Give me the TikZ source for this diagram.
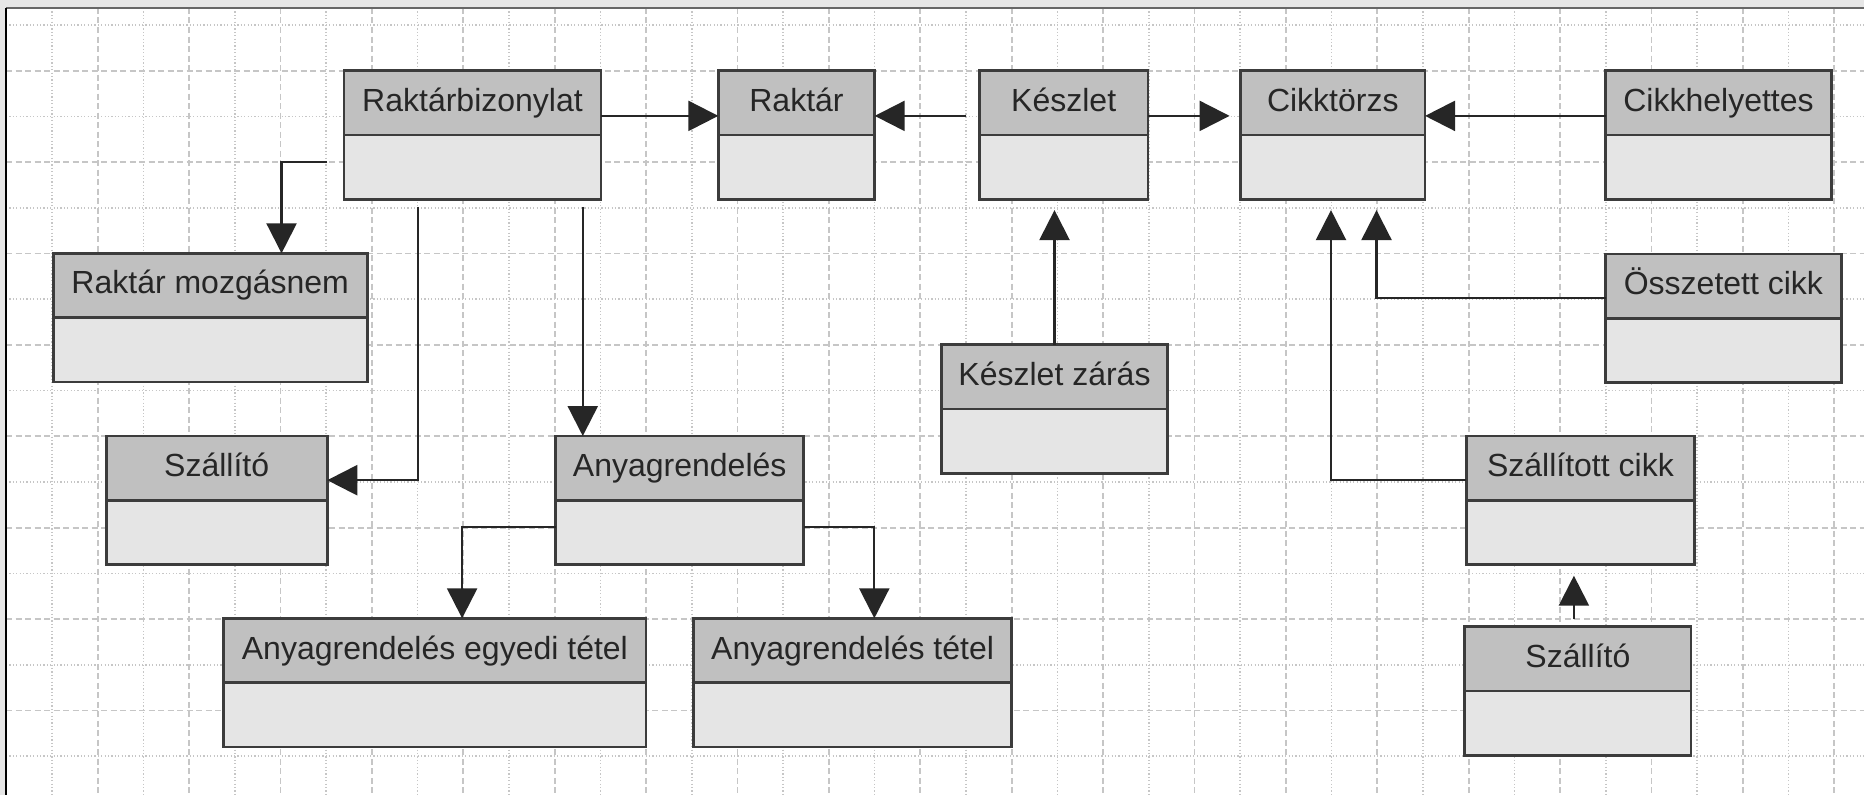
\documentclass[tikz,border=0pt]{standalone}
\usepackage{fontspec}
\setmainfont{Liberation Sans}
\usetikzlibrary{positioning}
\usetikzlibrary{arrows.meta}
\definecolor{headfill}{HTML}{C0C0C0}
\definecolor{bodyfill}{HTML}{E5E5E5}
\definecolor{boxline}{HTML}{3C3C3C}
\definecolor{gridline}{HTML}{C6C6C6}
\definecolor{framegray}{HTML}{E6E6E6}
\tikzstyle{clhead} = [draw=boxline, fill=headfill, line width=0.8pt, inner sep=0pt, outer sep=0pt, minimum height=6.43mm, text height=2.3mm, text depth=0.6mm, text=black!85, font=\fontsize{9.1}{11}\selectfont]
\tikzstyle{clbody} = [draw=boxline, fill=bodyfill, line width=0.8pt, inner sep=0pt, outer sep=0pt, minimum height=6.43mm]
\tikzstyle{conn} = [draw=black!85, line width=0.65pt, -{Triangle[length=3mm, width=3mm]}]
\tikzstyle{majorgrid} = [draw=gridline, line width=0.5pt, dash pattern=on 0.6mm off 0.35mm]
\tikzstyle{minorgrid} = [draw=gridline, line width=0.45pt, dash pattern=on 0.12mm off 0.22mm]

\begin{document}
\begin{tikzpicture}[x=0.01cm, y=-0.01cm]
    \useasboundingbox (0,0) rectangle (1864,795);
    % frame and grid
    \fill[framegray] (0,0) rectangle (1864,795);
    \fill[white] (6,8) rectangle (1864,795);
    \foreach \k in {0,...,19} {
        \draw[minorgrid] ({52+91.4*\k},8) -- ({52+91.4*\k},795);
        \draw[majorgrid] ({97.7+91.4*\k},8) -- ({97.7+91.4*\k},795);
    }
    \foreach \k in {0,...,8} {
        \draw[minorgrid] (6,{25+91.4*\k}) -- (1864,{25+91.4*\k});
    }
    \foreach \k in {0,...,7} {
        \draw[majorgrid] (6,{70.7+91.4*\k}) -- (1864,{70.7+91.4*\k});
    }
    \draw[black!60, line width=0.7pt] (6,8) -- (1864,8);
    \draw[black, line width=0.8pt] (6,795) -- (6,8);

    % classes
    \node[clhead, minimum width=2.57cm] (rbiz) at (472.5,102.9) {Raktárbizonylat};
    \node[clbody, minimum width=2.57cm, below=0pt of rbiz] (rbiz_b) {};
    \node[clhead, minimum width=1.563cm] (raktar) at (796.5,102.9) {Raktár};
    \node[clbody, minimum width=1.563cm, below=0pt of raktar] (raktar_b) {};
    \node[clhead, minimum width=1.683cm] (keszlet) at (1063.7,102.9) {Készlet};
    \node[clbody, minimum width=1.683cm, below=0pt of keszlet] (keszlet_b) {};
    \node[clhead, minimum width=1.844cm] (cikk) at (1332.8,102.9) {Cikktörzs};
    \node[clbody, minimum width=1.844cm, below=0pt of cikk] (cikk_b) {};
    \node[clhead, minimum width=2.259cm] (helyettes) at (1718.5,102.9) {Cikkhelyettes};
    \node[clbody, minimum width=2.259cm, below=0pt of helyettes] (helyettes_b) {};

    \node[clhead, minimum width=3.136cm] (mozgas) at (210.2,285.5) {Raktár mozgásnem};
    \node[clbody, minimum width=3.136cm, below=0pt of mozgas] (mozgas_b) {};
    \node[clhead, minimum width=2.357cm] (osszetett) at (1723.4,286.2) {Összetett cikk};
    \node[clbody, minimum width=2.357cm, below=0pt of osszetett] (osszetett_b) {};
    \node[clhead, minimum width=2.259cm] (zaras) at (1054.5,376.9) {Készlet zárás};
    \node[clbody, minimum width=2.259cm, below=0pt of zaras] (zaras_b) {};

    \node[clhead, minimum width=2.21cm] (szall1) at (216.7,468.2) {Szállító};
    \node[clbody, minimum width=2.21cm, below=0pt of szall1] (szall1_b) {};
    \node[clhead, minimum width=2.48cm] (anyag) at (679.7,468.2) {Anyagrendelés};
    \node[clbody, minimum width=2.48cm, below=0pt of anyag] (anyag_b) {};
    \node[clhead, minimum width=2.279cm] (szcikk) at (1580.4,468.2) {Szállított cikk};
    \node[clbody, minimum width=2.279cm, below=0pt of szcikk] (szcikk_b) {};

    \node[clhead, minimum width=4.219cm] (egyedi) at (434.9,650.5) {Anyagrendelés egyedi tétel};
    \node[clbody, minimum width=4.219cm, below=0pt of egyedi] (egyedi_b) {};
    \node[clhead, minimum width=3.182cm] (tetel) at (852.6,650.5) {Anyagrendelés tétel};
    \node[clbody, minimum width=3.182cm, below=0pt of tetel] (tetel_b) {};
    \node[clhead, minimum width=2.262cm] (szall2) at (1577.9,658.9) {Szállító};
    \node[clbody, minimum width=2.262cm, below=0pt of szall2] (szall2_b) {};

    % associations
    \draw[conn] ([yshift=-1.3mm]rbiz.east) -- ([yshift=-1.3mm]raktar.west);
    \draw[conn, shorten <=1.4mm] ([yshift=-1.3mm]keszlet.west) -- ([yshift=-1.3mm]raktar.east);
    \draw[conn, shorten >=1.1mm] ([yshift=-1.3mm]keszlet.east) -- ([yshift=-1.3mm]cikk.west);
    \draw[conn] ([yshift=-1.3mm]helyettes.west) -- ([yshift=-1.3mm]cikk.east);
    \draw[conn, shorten <=1.66mm] ([yshift=0.5mm]rbiz_b.west) -| ([xshift=7.13mm]mozgas.north);
    \draw[conn, shorten <=0.74mm] ([xshift=-5.45mm]rbiz_b.south) |- ([yshift=-1.2mm]szall1.east);
    \draw[conn, shorten <=0.74mm] ([xshift=11.02mm]rbiz_b.south) -- ([xshift=11.02mm]rbiz_b.south |- anyag.north);
    \draw[conn, shorten >=1.07mm] (zaras.north) -- (zaras.north |- keszlet_b.south);
    \draw[conn, shorten >=1.07mm] ([yshift=-1.2mm]osszetett.west) -| ([xshift=4.37mm]cikk_b.south);
    \draw[conn, shorten >=1.07mm] ([yshift=-1.2mm]szcikk.west) -| ([xshift=-0.18mm]cikk_b.south);
    \draw[conn, shorten <=0.74mm, shorten >=1.1mm] ([xshift=-0.4mm]szall2.north) -- ([xshift=-0.4mm]szall2.north |- szcikk_b.south);
    \draw[conn] ([yshift=0.55mm]anyag_b.west) -| ([xshift=2.72mm]egyedi.north);
    \draw[conn] ([yshift=0.55mm]anyag_b.east) -| ([xshift=2.17mm]tetel.north);
\end{tikzpicture}
\end{document}
